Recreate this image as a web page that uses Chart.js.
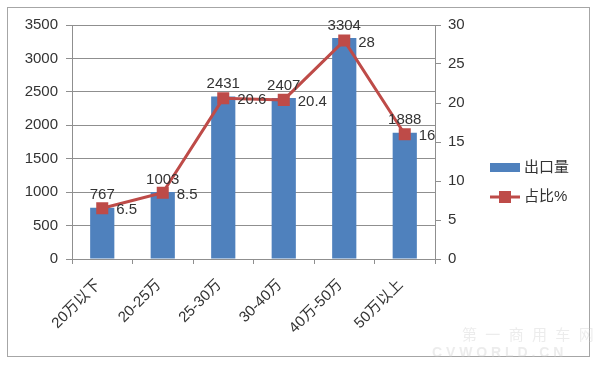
<!DOCTYPE html>
<html>
<head>
<meta charset="utf-8">
<script src="https://cdn.jsdelivr.net/npm/chart.js@4/dist/chart.umd.min.js"></script>
<style>
  html, body { margin: 0; padding: 0; background: #fff; }
  #wrap { width: 600px; height: 367px; position: relative; }
</style>
</head>
<body>
<div id="wrap"><canvas id="c" width="600" height="367"></canvas></div>
<script>
// values
const labels = ['20万以下', '20-25万', '25-30万', '30-40万', '40万-50万', '50万以上'];
const exportVolume = [767, 1003, 2431, 2407, 3304, 1888];
const sharePct = [6.5, 8.5, 20.6, 20.4, 28, 16];
const volumeName = '出口量';
const shareName = '占比%';

const BLUE = '#4F81BD', RED = '#BE4B48', GRID = '#8f8f8f', TXT = '#333';
const FONT = "'Liberation Sans', 'Noto Sans CJK SC', sans-serif";

const frame = {
  id: 'frame',
  beforeDraw(chart){
    const c = chart.ctx;
    c.save();
    c.fillStyle = '#fff'; c.fillRect(0, 0, chart.width, chart.height);
    c.strokeStyle = '#a6a6a6'; c.lineWidth = 1;
    c.strokeRect(7.5, 7.5, 582, 349);
    c.restore();
  },
  afterDraw(chart){
    const c = chart.ctx;
    c.save();
    // legend
    c.fillStyle = BLUE; c.fillRect(490, 163, 30, 9);
    c.strokeStyle = RED; c.lineWidth = 3;
    c.beginPath(); c.moveTo(490, 197); c.lineTo(520, 197); c.stroke();
    c.fillStyle = RED; c.fillRect(499, 191, 12, 12);
    c.fillStyle = TXT; c.font = '15px ' + FONT; c.textBaseline = 'middle'; c.textAlign = 'left';
    c.fillText(volumeName, 524, 168);
    c.fillText(shareName, 524, 197);
    // faint watermark
    c.fillStyle = 'rgba(200,200,200,0.35)';
    c.font = '15px ' + FONT;
    c.fillText('第  一  商  用  车  网', 462, 336);
    c.font = 'bold 14px ' + FONT;
    c.fillText('C V W O R L D . C N', 432, 353);
    c.restore();
  }
};

const valueLabels = {
  id: 'valueLabels',
  afterDatasetsDraw(chart){
    const c = chart.ctx;
    c.save();
    c.font = '15px ' + FONT; c.fillStyle = TXT;
    chart.getDatasetMeta(1).data.forEach((el, i) => {
      c.textAlign = 'center'; c.textBaseline = 'bottom';
      c.fillText(String(exportVolume[i]), el.x, el.y - 5);
    });
    chart.getDatasetMeta(0).data.forEach((el, i) => {
      c.textAlign = 'left'; c.textBaseline = 'middle';
      c.fillText(String(sharePct[i]), el.x + 14, el.y + 2);
    });
    c.restore();
  }
};

const plain = v => String(v);

new Chart(document.getElementById('c'), {
  data: {
    labels,
    datasets: [
      { type: 'line', label: shareName, data: sharePct, yAxisID: 'y1', order: 0,
        borderColor: RED, borderWidth: 3, backgroundColor: RED,
        pointStyle: 'rect', pointRadius: 8.5, pointBorderWidth: 0, tension: 0 },
      { type: 'bar', label: volumeName, data: exportVolume, yAxisID: 'y', order: 1,
        backgroundColor: BLUE, categoryPercentage: 1, barPercentage: 0.4 }
    ]
  },
  options: {
    responsive: false, animation: false,
    layout: { padding: { top: 25, left: 0, right: 0, bottom: 0 } },
    plugins: { legend: { display: false }, tooltip: { enabled: false } },
    scales: {
      x: {
        offset: true,
        grid: { display: true, drawOnChartArea: false, offset: true, color: GRID, tickLength: 5 },
        border: { color: GRID },
        ticks: { color: TXT, font: { family: FONT, size: 15 }, maxRotation: 45, minRotation: 45, padding: 12, labelOffset: -4 },
        afterFit(s){ s.height = 108; }
      },
      y: {
        position: 'left', min: 0, max: 3500,
        grid: { color: GRID, tickLength: 6 },
        border: { color: GRID },
        ticks: { stepSize: 500, color: TXT, font: { family: FONT, size: 15 }, padding: 8, callback: plain },
        afterFit(s){ s.width = 72; }
      },
      y1: {
        position: 'right', min: 0, max: 30,
        grid: { drawOnChartArea: false, color: GRID, tickLength: 6 },
        border: { color: GRID },
        ticks: { stepSize: 5, color: TXT, font: { family: FONT, size: 15 }, padding: 7, callback: plain },
        afterFit(s){ s.width = 165; }
      }
    }
  },
  plugins: [frame, valueLabels]
});
</script>
</body>
</html>
